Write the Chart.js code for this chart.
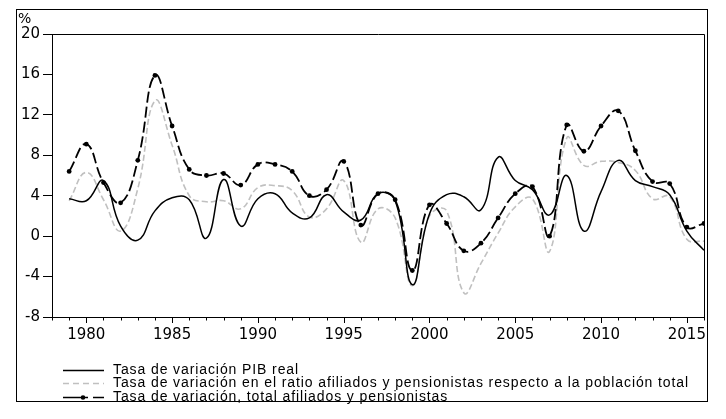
<!DOCTYPE html>
<html><head><meta charset="utf-8">
<script src="https://cdn.jsdelivr.net/npm/chart.js@4/dist/chart.umd.min.js"></script>
<style>html,body{margin:0;padding:0;background:#fff}#wrap{position:relative;width:726px;height:419px}</style>
</head><body><div id="wrap"><canvas id="c" width="726" height="419"></canvas></div>
<script>
const years = [1979,1980,1981,1982,1983,1984,1985,1986,1987,1988,1989,1990,1991,1992,1993,1994,1995,1996,1997,1998,1999,2000,2001,2002,2003,2004,2005,2006,2007,2008,2009,2010,2011,2012,2013,2014,2015,2016];
const pibReal = [3.7,3.5,5.5,1.0,-0.4,2.5,3.8,3.6,-0.2,5.6,1.0,3.7,4.2,2.3,1.8,4.1,2.4,1.6,4.2,3.5,-4.8,2.2,4.1,3.9,2.6,7.8,5.5,4.6,2.1,6.0,0.5,4.4,7.5,5.5,4.9,4.1,0.5,-1.4];
const ratioAfiliados = [3.5,6.3,3.6,0.5,4.7,13.4,9.0,4.0,3.4,3.5,2.7,4.8,5.0,4.5,1.9,2.7,5.5,-0.6,2.7,1.8,-4.9,2.0,2.5,-5.6,-2.7,0.3,2.9,3.7,-1.5,9.7,7.0,7.4,7.3,6.5,3.7,3.9,-0.3,-0.5];
const totalAfiliados = [6.4,9.1,5.3,3.3,7.5,15.9,10.9,6.6,6.0,6.2,5.05,7.1,7.1,6.4,4.0,4.6,7.4,1.1,4.2,3.6,-3.4,3.1,1.25,-1.45,-0.7,1.8,4.2,4.9,0.0,11.0,8.4,10.9,12.4,8.45,5.4,5.2,0.9,1.25];
const seriesNames = ['Tasa de variación PIB real','Tasa de variación en el ratio afiliados y pensionistas respecto a la población total','Tasa de variación, total afiliados y pensionistas'];
const yTicks = [-8,-4,0,4,8,12,16,20];
const xLabelYears = [1980,1985,1990,1995,2000,2005,2010,2015];
const xMin = 1978, xMax = 2016;
const unitLabel = '%';

const pts = arr => years.map((y,i)=>({x:y,y:arr[i]}));
const TICK_FONT = {family:'DejaVu Sans', size:15};
const LEG_FONT = '14px "Liberation Sans", Arial, sans-serif';

const decor = {
  id:'decor',
  afterDraw(chart){
    const ctx = chart.ctx, a = chart.chartArea;
    ctx.save();
    ctx.strokeStyle = '#000'; ctx.lineWidth = 1;
    ctx.strokeRect(16.5, 9.5, 691, 392);
    ctx.beginPath();
    ctx.moveTo(Math.round(a.left)+0.5, Math.round(a.top)+0.5);
    ctx.lineTo(Math.round(a.right)+0.5, Math.round(a.top)+0.5);
    ctx.lineTo(Math.round(a.right)+0.5, Math.round(a.bottom)+0.5);
    ctx.stroke();
    const xs = chart.scales.x;
    ctx.beginPath();
    xs.ticks.forEach(t=>{
      const px = Math.round(xs.getPixelForValue(t.value))+0.5;
      const len = (t.value % 5 === 0) ? 6 : 3.5;
      ctx.moveTo(px, a.bottom); ctx.lineTo(px, a.bottom+len);
    });
    ctx.stroke();
    ctx.fillStyle = '#000';
    ctx.font = '14px "DejaVu Sans"';
    ctx.textBaseline = 'alphabetic'; ctx.textAlign = 'left';
    ctx.fillText(unitLabel, 18, 23);
    const rows = [369.5, 383, 397];
    ctx.font = LEG_FONT;
    if ('letterSpacing' in ctx) ctx.letterSpacing = '0.9px';
    ctx.textBaseline = 'middle';
    chart.data.datasets.forEach((ds,i)=>{
      const y = Math.round(rows[i])+0.5;
      ctx.strokeStyle = ds.borderColor; ctx.lineWidth = ds.legendWidth;
      if (ds.legendMarker){
        ctx.setLineDash([]);
        ctx.beginPath(); ctx.moveTo(63,y); ctx.lineTo(88,y); ctx.moveTo(93,y); ctx.lineTo(104,y); ctx.stroke();
        ctx.beginPath(); ctx.fillStyle = '#000'; ctx.arc(83,y,2.3,0,Math.PI*2); ctx.fill();
      } else {
        ctx.setLineDash(ds.legendDash || []);
        ctx.beginPath(); ctx.moveTo(63,y); ctx.lineTo(104,y); ctx.stroke();
        ctx.setLineDash([]);
      }
      ctx.fillStyle = '#000';
      ctx.fillText(seriesNames[i], 113, y);
    });
    ctx.restore();
  }
};

new Chart(document.getElementById('c'), {
  type:'line',
  data:{
    datasets:[
      {label:seriesNames[0], data:pts(pibReal), borderColor:'#000', borderWidth:1.5, pointRadius:0, tension:0.45, order:1, legendWidth:1.3},
      {label:seriesNames[1], data:pts(ratioAfiliados), borderColor:'#c0c0c0', borderWidth:1.6, borderDash:[6,3], pointRadius:0, tension:0.45, order:2, legendWidth:1.3, legendDash:[6,4]},
      {label:seriesNames[2], data:pts(totalAfiliados), borderColor:'#000', borderWidth:1.8, borderDash:[11,4], pointRadius:2.4, pointBackgroundColor:'#000', pointBorderWidth:0, tension:0.45, order:0, legendWidth:1.3, legendMarker:true}
    ]
  },
  options:{
    responsive:false, animation:false, devicePixelRatio:1,
    layout:{padding:{left:0, top:34, right:22, bottom:0}},
    plugins:{legend:{display:false}, tooltip:{enabled:false}},
    scales:{
      x:{type:'linear', min:xMin, max:xMax,
        afterBuildTicks: s => { const t=[]; for(let v=xMin; v<=xMax; v++) t.push({value:v}); s.ticks=t; },
        afterFit: s => { s.height = 102; },
        ticks:{autoSkip:false, maxRotation:0, color:'#000', font:TICK_FONT, padding:9,
          callback: v => xLabelYears.includes(v) ? String(v) : ''},
        grid:{drawOnChartArea:false, drawTicks:false},
        border:{display:true, color:'#000', width:1}
      },
      y:{type:'linear', min:-8, max:20,
        afterBuildTicks: s => { s.ticks = yTicks.map(v=>({value:v})); },
        afterFit: s => { s.width = 52; },
        ticks:{color:'#000', font:TICK_FONT, padding:3},
        grid:{drawOnChartArea:false, drawTicks:true, tickLength:9, color:'#000'},
        border:{display:true, color:'#000', width:1}
      }
    }
  },
  plugins:[decor]
});
</script></body></html>
